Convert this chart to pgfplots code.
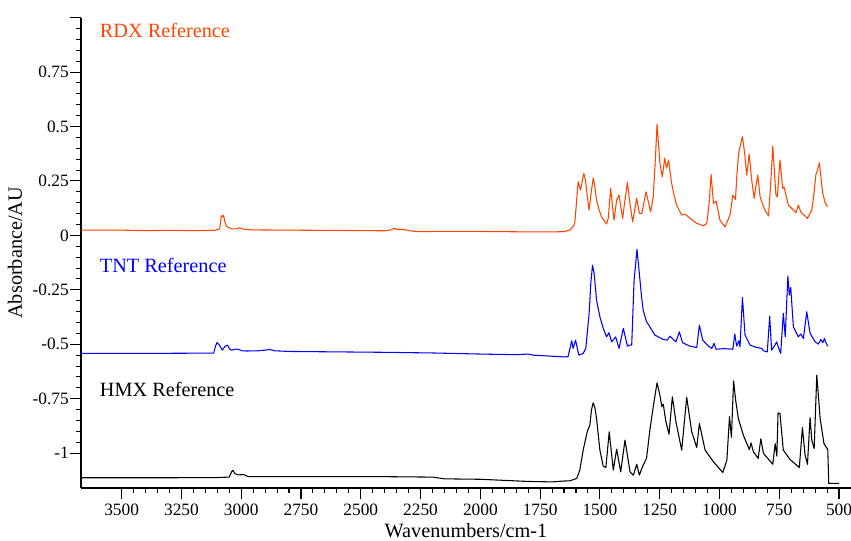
\documentclass[border=0pt]{standalone}
\usepackage{pgfplots}
\pgfplotsset{compat=1.18}
\usepackage{fontspec}
\setmainfont{Liberation Serif}
\definecolor{rdx}{RGB}{255,69,0}
\definecolor{tnt}{RGB}{0,0,255}
\begin{document}
\begin{tikzpicture}
\useasboundingbox (-60.75pt,-39.75pt) rectangle (577.5pt,366pt);
\begin{axis}[
  at={(0,0)}, anchor=south west,
  scale only axis, width=577.5pt, height=352.8pt,
  x dir=reverse, xmin=450, xmax=3670,
  ymin=-1.16, ymax=1.0,
  axis x line*=bottom, axis y line*=left,
  axis line style={line width=0.8pt},
  tick align=outside,
  xtick={500,750,1000,1250,1500,1750,2000,2250,2500,2750,3000,3250,3500},
  xticklabels={500,750,1000,1250,1500,1750,2000,2250,2500,2750,3000,3250,3500},
  minor x tick num=4,
  ytick={-1,-0.75,-0.5,-0.25,0,0.25,0.5,0.75,1},
  yticklabels={-1,-0.75,-0.5,-0.25,0,0.25,0.5,0.75,},
  minor y tick num=4,
  major tick length=8.5pt, minor tick length=3.5pt,
  every tick/.style={line width=0.8pt, black},
  tick label style={font=\fontsize{13}{15}\selectfont},
  yticklabel style={inner xsep=0.5pt},
  label style={font=\fontsize{15.2}{18}\selectfont},
  xlabel={Wavenumbers/cm-1},
  ylabel={Absorbance/AU},
  xlabel style={at={(axis description cs:0.5,0)}, anchor=base, yshift=-37.3pt},
  ylabel style={at={(axis description cs:-0.0857,0.5)}, anchor=center},
  every axis plot/.append style={line join=round},
  clip=true,
]
% RDX
\addplot[color=rdx, line width=0.8pt] coordinates {
(3670,0.024) (3500,0.024) (3400,0.022) (3300,0.023) (3200,0.022) (3110,0.023)
(3090,0.030) (3083,0.090) (3079,0.085) (3074,0.093) (3068,0.060) (3060,0.040)
(3040,0.030) (3020,0.030) (3006,0.035) (2995,0.029) (2950,0.025) (2800,0.024)
(2500,0.022) (2400,0.021) (2375,0.025) (2360,0.032) (2345,0.027) (2320,0.027)
(2290,0.020) (2250,0.017) (2200,0.018) (2100,0.018) (2000,0.018) (1900,0.017)
(1800,0.016) (1700,0.016) (1650,0.017) (1625,0.025) (1612,0.040) (1605,0.056)
(1598,0.150) (1591,0.246)
(1581,0.208) (1567,0.285) (1560,0.250) (1556,0.208) (1545,0.116) (1536,0.200) (1528,0.264) (1522,0.230) (1514,0.162)
(1503,0.115) (1493,0.085) (1472,0.052) (1465,0.080) (1455,0.216) (1448,0.140) (1441,0.070) (1430,0.162) (1420,0.185)
(1405,0.078) (1393,0.180) (1385,0.243) (1375,0.150) (1363,0.062) (1346,0.170) (1335,0.101) (1325,0.101)
(1307,0.200) (1288,0.108) (1277,0.177) (1268,0.350) (1261,0.511) (1255,0.420) (1249,0.331) (1239,0.269)
(1229,0.354) (1221,0.308) (1213,0.346) (1200,0.239) (1190,0.185) (1179,0.139) (1158,0.093)
(1144,0.098) (1123,0.078) (1095,0.055) (1067,0.044) (1053,0.055) (1043,0.150) (1035,0.280)
(1025,0.147) (1014,0.157) (998,0.070) (977,0.039) (956,0.093) (944,0.185)
(933,0.165) (927,0.280) (920,0.377) (904,0.453) (895,0.380) (886,0.277) (876,0.373) (865,0.254)
(855,0.170) (847,0.231) (840,0.277) (830,0.177) (812,0.120) (795,0.089) (785,0.250) (777,0.410)
(764,0.185) (758,0.177) (747,0.346) (736,0.216) (730,0.223) (712,0.139)
(680,0.104) (670,0.139) (660,0.108) (632,0.078) (614,0.116) (605,0.190) (597,0.277)
(590,0.300) (582,0.333) (575,0.260) (568,0.193) (558,0.150) (548,0.131)
};
% TNT
\addplot[color=tnt, line width=0.8pt] coordinates {
(3670,-0.542) (3400,-0.542) (3200,-0.541) (3115,-0.541) (3108,-0.510) (3101,-0.492)
(3090,-0.505) (3079,-0.527) (3068,-0.510) (3058,-0.504) (3048,-0.522) (3041,-0.527)
(3030,-0.524) (3017,-0.522) (2995,-0.530) (2978,-0.531) (2930,-0.530) (2900,-0.527)
(2881,-0.524) (2860,-0.530) (2800,-0.533) (2600,-0.535) (2400,-0.537) (2200,-0.540)
(2000,-0.545) (1850,-0.548) (1800,-0.545) (1780,-0.550) (1700,-0.555) (1650,-0.558)
(1633,-0.557) (1618,-0.484) (1612,-0.519) (1602,-0.481) (1588,-0.550) (1570,-0.542)
(1559,-0.519) (1545,-0.358) (1538,-0.220) (1531,-0.137) (1524,-0.175) (1514,-0.297) (1500,-0.374)
(1486,-0.427) (1472,-0.466) (1462,-0.447) (1451,-0.489) (1434,-0.466) (1420,-0.519)
(1402,-0.427) (1385,-0.509) (1377,-0.504) (1367,-0.504) (1357,-0.206) (1345,-0.065)
(1335,-0.175) (1326,-0.280) (1319,-0.343) (1305,-0.397) (1291,-0.420) (1270,-0.458) (1235,-0.478)
(1218,-0.481) (1207,-0.463) (1182,-0.489) (1168,-0.443) (1154,-0.493) (1123,-0.509)
(1095,-0.515) (1084,-0.412) (1070,-0.481) (1046,-0.509) (1032,-0.519) (1023,-0.496)
(1014,-0.523) (983,-0.520) (944,-0.523) (936,-0.453) (928,-0.509) (919,-0.484)
(914,-0.512) (904,-0.285) (893,-0.458) (872,-0.504) (844,-0.515) (823,-0.519)
(816,-0.530) (800,-0.535) (790,-0.371) (782,-0.527) (768,-0.504) (761,-0.489)
(752,-0.519) (744,-0.542) (733,-0.358) (725,-0.466) (714,-0.187) (708,-0.274)
(702,-0.239) (691,-0.420) (670,-0.466) (660,-0.453) (649,-0.473) (635,-0.351)
(621,-0.450) (600,-0.489) (586,-0.499) (576,-0.478) (568,-0.493) (561,-0.473)
(555,-0.493) (547,-0.509)
};
% HMX
\addplot[color=black, line width=0.8pt] coordinates {
(3670,-1.113) (3300,-1.113) (3100,-1.112) (3050,-1.110) (3040,-1.085) (3035,-1.079)
(3025,-1.095) (3010,-1.100) (2990,-1.098) (2970,-1.108) (2900,-1.108) (2700,-1.108)
(2400,-1.108) (2200,-1.110) (2150,-1.118) (2000,-1.120) (1800,-1.130) (1700,-1.132)
(1650,-1.128) (1625,-1.127) (1597,-1.116) (1584,-1.078) (1570,-0.986) (1553,-0.902)
(1542,-0.871) (1535,-0.800) (1528,-0.769) (1521,-0.790) (1514,-0.841) (1500,-0.986) (1486,-1.060) (1475,-1.066)
(1461,-0.902) (1444,-1.078) (1430,-0.982) (1413,-1.086) (1395,-0.940) (1374,-1.086)
(1360,-1.101) (1346,-1.051) (1335,-1.101) (1321,-1.060) (1305,-1.024) (1291,-0.894)
(1277,-0.787) (1261,-0.677) (1249,-0.734) (1241,-0.787) (1235,-0.775) (1224,-0.856)
(1211,-0.913) (1197,-0.741) (1182,-0.856) (1158,-0.986) (1137,-0.744) (1116,-0.902)
(1095,-0.974) (1084,-0.864) (1060,-0.986) (1025,-1.040) (986,-1.089) (969,-1.032)
(958,-0.833) (950,-0.928) (941,-0.668) (932,-0.760) (921,-0.841) (900,-0.918) (875,-0.984)
(868,-0.953) (858,-0.994) (838,-1.024) (827,-0.934) (816,-1.001) (777,-1.051)
(767,-0.956) (760,-1.014) (755,-0.815) (747,-0.818) (733,-0.986) (705,-1.029)
(666,-1.066) (653,-0.882) (642,-1.009) (632,-1.051) (621,-0.836) (614,-0.940)
(604,-0.979) (593,-0.642) (586,-0.740) (579,-0.841) (563,-0.956) (547,-0.984) (543,-1.139)
(500,-1.139)
};
\node[anchor=base west, inner sep=0pt, text=rdx, font=\fontsize{15.2}{18}\selectfont] at (axis cs:3592,0.9076) {RDX Reference};
\node[anchor=base west, inner sep=0pt, text=tnt, font=\fontsize{15.2}{18}\selectfont] at (axis cs:3592,-0.172) {TNT Reference};
\node[anchor=base west, inner sep=0pt, text=black, font=\fontsize{15.2}{18}\selectfont] at (axis cs:3592,-0.7415) {HMX Reference};
\end{axis}
\end{tikzpicture}
\end{document}
